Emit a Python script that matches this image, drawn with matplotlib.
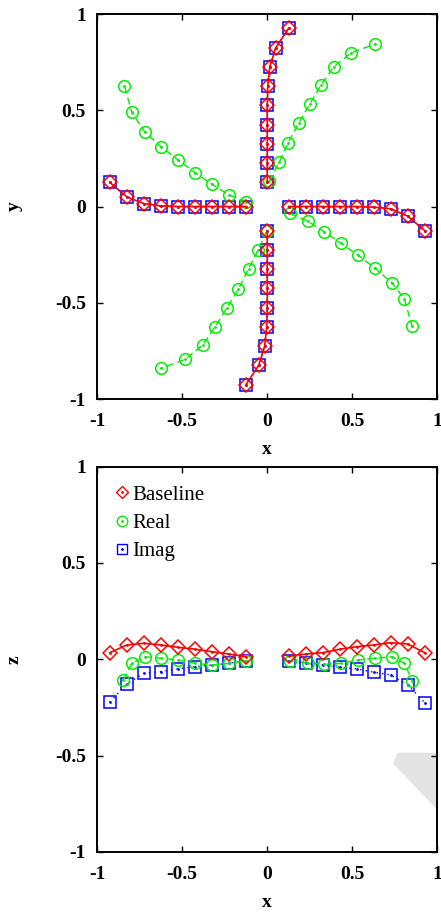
# Baseline / Real / Imag: xy positions (top) and z vs x (bottom)

import matplotlib
matplotlib.use("Agg")
import matplotlib.pyplot as plt
from matplotlib.lines import Line2D
import numpy as np

plt.rcParams['font.family'] = ['Liberation Serif', 'DejaVu Serif']

# ---- top panel: four arms per series ----
base_left_x = [-0.925, -0.825, -0.725, -0.625, -0.525, -0.425, -0.325, -0.225, -0.125]
base_left_y = [0.125, 0.05, 0.015, 0.003, 0.0, 0.0, 0.0, 0.0, 0.0]
base_right_x = [0.125, 0.225, 0.325, 0.425, 0.525, 0.625, 0.725, 0.825, 0.925]
base_right_y = [0.0, 0.0, 0.0, 0.0, 0.0, -0.003, -0.012, -0.05, -0.125]
base_top_x = [0.0, 0.0, 0.0, 0.0, 0.0, 0.003, 0.015, 0.05, 0.125]
base_top_y = [0.125, 0.225, 0.325, 0.425, 0.525, 0.625, 0.725, 0.825, 0.925]
base_bot_x = [-0.125, -0.05, -0.015, -0.003, 0.0, 0.0, 0.0, 0.0, 0.0]
base_bot_y = [-0.925, -0.825, -0.725, -0.625, -0.525, -0.425, -0.325, -0.225, -0.125]

# Imag sits on the same positions as Baseline in the xy plane
imag_arms = [(base_left_x, base_left_y), (base_right_x, base_right_y),
             (base_top_x, base_top_y), (base_bot_x, base_bot_y)]
base_arms = imag_arms

real_ul_x = [-0.124, -0.224, -0.324, -0.424, -0.524, -0.625, -0.718, -0.796, -0.839]
real_ul_y = [0.025, 0.060, 0.115, 0.176, 0.242, 0.311, 0.385, 0.489, 0.628]
real_ur_x = [0.012, 0.071, 0.122, 0.184, 0.249, 0.316, 0.390, 0.494, 0.635]
real_ur_y = [0.132, 0.230, 0.331, 0.432, 0.531, 0.631, 0.726, 0.799, 0.844]
real_ll_x = [-0.002, -0.055, -0.110, -0.169, -0.237, -0.306, -0.378, -0.482, -0.625]
real_ll_y = [-0.126, -0.228, -0.325, -0.429, -0.526, -0.624, -0.719, -0.794, -0.841]
real_lr_x = [0.135, 0.237, 0.335, 0.435, 0.534, 0.635, 0.733, 0.806, 0.851]
real_lr_y = [-0.036, -0.076, -0.131, -0.192, -0.253, -0.322, -0.397, -0.482, -0.621]
real_arms = [(real_ul_x, real_ul_y), (real_ur_x, real_ur_y),
             (real_ll_x, real_ll_y), (real_lr_x, real_lr_y)]

# ---- bottom panel: z against x ----
base_z_left = [0.034, 0.074, 0.083, 0.074, 0.062, 0.052, 0.039, 0.027, 0.013]
base_z_right = [0.017, 0.027, 0.034, 0.052, 0.065, 0.074, 0.086, 0.079, 0.034]

real_zx_left = [-0.845, -0.796, -0.718, -0.625, -0.524, -0.424, -0.324, -0.224, -0.124]
real_z_left = [-0.107, -0.021, 0.013, 0.005, -0.004, -0.021, -0.030, -0.021, -0.007]
real_zx_right = [0.135, 0.237, 0.335, 0.435, 0.534, 0.635, 0.733, 0.806, 0.851]
real_z_right = [-0.007, -0.021, -0.026, -0.021, -0.004, 0.005, 0.013, -0.021, -0.111]

imag_z_left = [-0.223, -0.128, -0.073, -0.064, -0.050, -0.038, -0.030, -0.021, -0.007]
imag_z_right = [-0.007, -0.021, -0.030, -0.041, -0.050, -0.067, -0.081, -0.133, -0.225]

# grey patch in the lower right corner of the z panel
shade_x = [0.74, 0.765, 1.05, 1.05]
shade_z = [-0.54, -0.485, -0.485, -0.83]

ticks = [-1, -0.5, 0, 0.5, 1]
tick_labels = ["-1", "-0.5", "0", "0.5", "1"]

RED = "#ff0000"
GREEN = "#00ee00"
BLUE = "#0000ff"

styles = {
    "imag": dict(color=BLUE, ls=(0, (1, 3)), lw=1.0, marker="s", ms=8.2, mec=BLUE,
                 mfc="none", mew=1.1, zorder=3),
    "real": dict(color=GREEN, ls=(0, (5, 3)), lw=1.0, marker="o", ms=8.4, mec=GREEN,
                 mfc="none", mew=1.1, zorder=4),
    "base": dict(color=RED, ls="-", lw=1.2, marker="D", ms=6.8, mec=RED,
                 mfc="none", mew=1.1, zorder=5),
}
colors = {"imag": BLUE, "real": GREEN, "base": RED}


def draw(ax, key, xs, ys):
    ax.plot(xs, ys, **styles[key])
    ax.plot(xs, ys, ls="none", marker=".", ms=2, color=colors[key],
            zorder=styles[key]["zorder"])


def style_axes(ax, ylab):
    ax.set_xlim(-1, 1)
    ax.set_ylim(-1, 1)
    ax.set_xticks(ticks)
    ax.set_xticklabels(tick_labels)
    ax.set_yticks(ticks)
    ax.set_yticklabels(tick_labels)
    ax.tick_params(direction="in", top=True, right=True, length=4, width=1.0,
                   labelsize=14, pad=8)
    ax.tick_params(axis="x", pad=10)
    for lab in ax.get_xticklabels() + ax.get_yticklabels():
        lab.set_fontweight("bold")
    for sp in ax.spines.values():
        sp.set_linewidth(1.4)
    ax.set_xlabel("x", fontsize=14, fontweight="bold", labelpad=8)
    ax.set_ylabel(ylab, fontsize=14, fontweight="bold", labelpad=23)


fig = plt.figure(figsize=(4.41, 9.16), dpi=100)
ax1 = fig.add_axes([0.220, 0.5644, 0.772, 0.4203])
ax2 = fig.add_axes([0.220, 0.0699, 0.772, 0.4208])

# top panel
for xs, ys in imag_arms:
    draw(ax1, "imag", xs, ys)
for xs, ys in real_arms:
    draw(ax1, "real", xs, ys)
for xs, ys in base_arms:
    draw(ax1, "base", xs, ys)
style_axes(ax1, "y")

# bottom panel
ax2.fill(shade_x, shade_z, color="#e4e4e4", lw=0, zorder=1)
draw(ax2, "imag", base_left_x, imag_z_left)
draw(ax2, "imag", base_right_x, imag_z_right)
draw(ax2, "real", real_zx_left, real_z_left)
draw(ax2, "real", real_zx_right, real_z_right)
draw(ax2, "base", base_left_x, base_z_left)
draw(ax2, "base", base_right_x, base_z_right)
style_axes(ax2, "z")

handles = []
for key in ["base", "real", "imag"]:
    st = styles[key]
    h1 = Line2D([], [], ls="none", marker=st["marker"], ms=st["ms"] * 0.9,
                mec=st["mec"], mfc="none", mew=1.0)
    h2 = Line2D([], [], ls="none", marker=".", ms=2, color=colors[key])
    handles.append((h1, h2))
ax2.legend(handles, ["Baseline", "Real", "Imag"], loc="upper left",
           bbox_to_anchor=(0.05, 0.952), frameon=False, fontsize=15,
           handlelength=0.8, handletextpad=0.08, labelspacing=0.42,
           borderaxespad=0, borderpad=0)

fig.savefig("out.png", dpi=100)
